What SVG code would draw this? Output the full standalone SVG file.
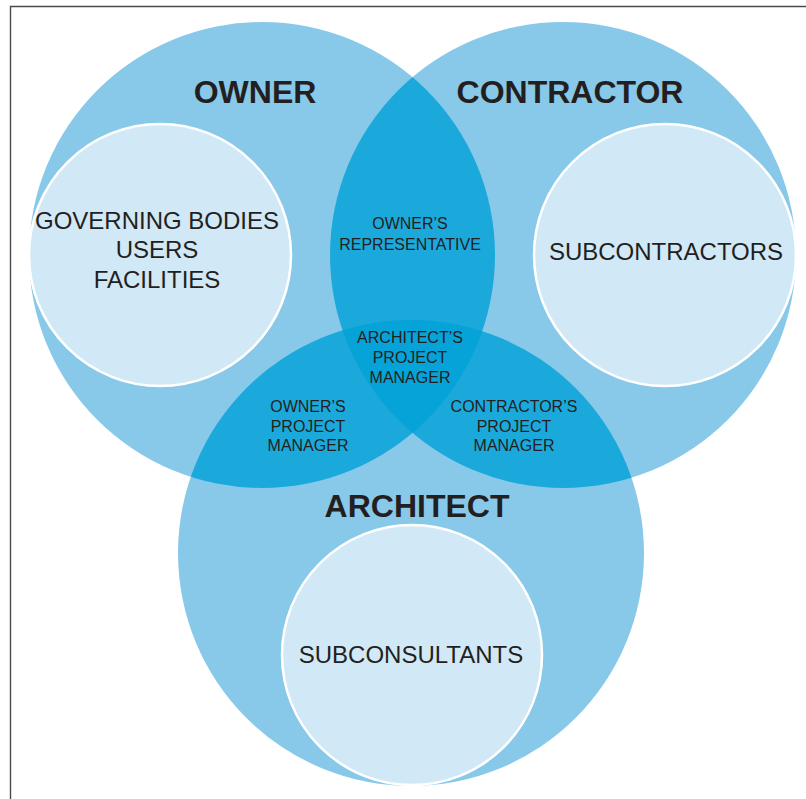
<svg xmlns="http://www.w3.org/2000/svg" width="806" height="799" viewBox="0 0 806 799">
<style>
.big{fill:#88c9ea}
.pair{fill:#1ba9dc}
.tri{fill:#06a3d8}
.inner{fill:#d1e8f6;stroke:#ffffff;stroke-width:2.5}
text{font-family:"Liberation Sans",Arial,sans-serif;fill:#231f20;text-anchor:middle}
.h{font-weight:bold;font-size:32px}
.m{font-size:24px}
.s{font-size:16px}
</style>
<defs>
<clipPath id="cO"><circle cx="262" cy="255" r="233"/></clipPath>
<clipPath id="cC"><circle cx="563" cy="255" r="233"/></clipPath>
<clipPath id="cA"><circle cx="411" cy="553" r="233"/></clipPath>
</defs>
<rect width="806" height="799" fill="#ffffff"/>
<path d="M10.5 799 V6.5 H806" fill="none" stroke="#4a4a4a" stroke-width="1.4"/>
<g id="owner">
<circle class="big" cx="262" cy="255" r="233"/>
</g>
<g id="contractor">
<circle class="big" cx="563" cy="255" r="233"/>
</g>
<g id="architect">
<circle class="big" cx="411" cy="553" r="233"/>
</g>
<g id="owner-contractor" clip-path="url(#cO)"><circle class="pair" cx="563" cy="255" r="233"/></g>
<g id="owner-architect" clip-path="url(#cO)"><circle class="pair" cx="411" cy="553" r="233"/></g>
<g id="contractor-architect" clip-path="url(#cC)"><circle class="pair" cx="411" cy="553" r="233"/></g>
<g id="all-three" clip-path="url(#cO)"><g clip-path="url(#cC)"><circle class="tri" cx="411" cy="553" r="233"/></g></g>
<g id="owner-label"><text class="h" x="255" y="103">OWNER</text></g>
<g id="contractor-label"><text class="h" x="570" y="103">CONTRACTOR</text></g>
<g id="architect-label"><text class="h" x="417" y="517">ARCHITECT</text></g>
<g id="governing">
<circle class="inner" cx="160" cy="255" r="131"/>
<text class="m" x="157" y="229">GOVERNING BODIES</text>
<text class="m" x="157" y="258">USERS</text>
<text class="m" x="157" y="288">FACILITIES</text>
</g>
<g id="subcontractors">
<circle class="inner" cx="665" cy="255" r="131"/>
<text class="m" x="666" y="260">SUBCONTRACTORS</text>
</g>
<g id="subconsultants">
<circle class="inner" cx="412" cy="655" r="130"/>
<text class="m" x="411" y="663">SUBCONSULTANTS</text>
</g>
<g id="owners-representative">
<text class="s" x="410" y="229">OWNER’S</text>
<text class="s" x="410" y="250">REPRESENTATIVE</text>
</g>
<g id="architects-pm">
<text class="s" x="410" y="343">ARCHITECT’S</text>
<text class="s" x="410" y="363">PROJECT</text>
<text class="s" x="410" y="383">MANAGER</text>
</g>
<g id="owners-pm">
<text class="s" x="308" y="412">OWNER’S</text>
<text class="s" x="308" y="432">PROJECT</text>
<text class="s" x="308" y="451">MANAGER</text>
</g>
<g id="contractors-pm">
<text class="s" x="514" y="412">CONTRACTOR’S</text>
<text class="s" x="514" y="432">PROJECT</text>
<text class="s" x="514" y="451">MANAGER</text>
</g>
</svg>
